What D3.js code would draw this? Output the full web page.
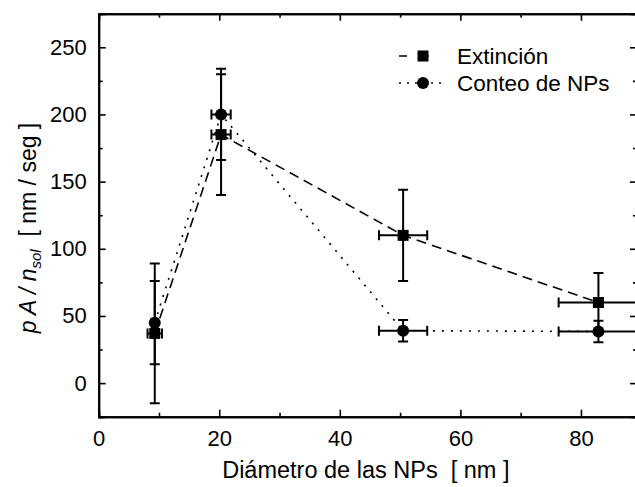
<!DOCTYPE html>
<html><head><meta charset="utf-8">
<script src="https://cdn.jsdelivr.net/npm/d3@7"></script>
<style>
body{margin:0;background:#fff;}
svg{display:block;}
text{font-family:Arial,"Liberation Sans",sans-serif;fill:#000;}
</style></head>
<body>
<svg id="c" width="635" height="487"></svg>
<script>
// ---- data ----
const diameters = [9.3, 20.3, 50.5, 82.9];
const extincion = [37, 185, 110, 60];
const extincionYErr = [52, 45, 34, 22];
const extincionXErr = [1.2, 1.6, 4.0, 6.6];
const conteo = [45, 200, 39, 38.5];
const conteoYErr = [31, 34, 8, 8];
const conteoXErr = [0.5, 1.6, 4.0, 6.6];
const xTicks = [0, 20, 40, 60, 80];
const yTicks = [0, 50, 100, 150, 200, 250];
const seriesNames = ["Extinción", "Conteo de NPs"];

const svg = d3.select("#c");
const L = 98.7, R = 637, T = 13.7, B = 416.7;
const x = d3.scaleLinear().domain([0, 89.3]).range([L, R]);
const y = d3.scaleLinear().domain([-25, 275]).range([B, T]);

const series = [
  {name: seriesNames[0], vals: extincion, ye: extincionYErr, xe: extincionXErr, dash: "10,6", shape: "square"},
  {name: seriesNames[1], vals: conteo, ye: conteoYErr, xe: conteoXErr, dash: "2,7", shape: "circle"}
];

svg.append("clipPath").attr("id", "clip").append("rect")
  .attr("x", L).attr("y", T).attr("width", R - L).attr("height", B - T);
const plot = svg.append("g").attr("clip-path", "url(#clip)");

// lines
const line = d3.line().x(d => x(d[0])).y(d => y(d[1]));
series.forEach(s => {
  plot.append("path").datum(diameters.map((d, i) => [d, s.vals[i]]))
    .attr("d", line).attr("fill", "none").attr("stroke", "#000")
    .attr("stroke-width", 1.6).attr("stroke-dasharray", s.dash);
});

// error bars
const cap = 5;
series.forEach(s => {
  diameters.forEach((d, i) => {
    const cx = x(d), cy = y(s.vals[i]);
    const y1 = y(s.vals[i] + s.ye[i]), y2 = y(s.vals[i] - s.ye[i]);
    const x1 = x(d - s.xe[i]), x2 = x(d + s.xe[i]);
    const g = plot.append("g").attr("stroke", "#000").attr("stroke-width", 2);
    g.append("line").attr("x1", cx).attr("x2", cx).attr("y1", y1).attr("y2", y2);
    g.append("line").attr("x1", cx - cap).attr("x2", cx + cap).attr("y1", y1).attr("y2", y1);
    g.append("line").attr("x1", cx - cap).attr("x2", cx + cap).attr("y1", y2).attr("y2", y2);
    g.append("line").attr("x1", x1).attr("x2", x2).attr("y1", cy).attr("y2", cy);
    g.append("line").attr("x1", x1).attr("x2", x1).attr("y1", cy - cap).attr("y2", cy + cap);
    g.append("line").attr("x1", x2).attr("x2", x2).attr("y1", cy - cap).attr("y2", cy + cap);
  });
});

// markers
function marker(g, shape, cx, cy) {
  if (shape === "square") {
    g.append("rect").attr("x", cx - 5.5).attr("y", cy - 5.5).attr("width", 11).attr("height", 11).attr("fill", "#000");
  } else {
    g.append("circle").attr("cx", cx).attr("cy", cy).attr("r", 6).attr("fill", "#000");
  }
}
series.forEach(s => {
  diameters.forEach((d, i) => marker(plot, s.shape, x(d), y(s.vals[i])));
});

// axes
const axW = 2;
const gx = svg.append("g").attr("transform", `translate(0,${B})`)
  .call(d3.axisBottom(x).tickValues(xTicks).tickSize(-7).tickPadding(14).tickFormat(d3.format("d")));
const gxTop = svg.append("g").attr("transform", `translate(0,${T})`)
  .call(d3.axisTop(x).tickValues(xTicks).tickSize(-7).tickFormat(""));
const gy = svg.append("g").attr("transform", `translate(${L},0)`)
  .call(d3.axisLeft(y).tickValues(yTicks).tickSize(-7).tickPadding(12).tickFormat(d3.format("d")));
const gyR = svg.append("g").attr("transform", `translate(${R},0)`)
  .call(d3.axisRight(y).tickValues(yTicks).tickSize(-7).tickFormat(""));
// minor ticks
const xMinor = d3.range(10, 90, 20);
const yMinor = d3.range(-25, 276, 50);
svg.append("g").attr("transform", `translate(0,${B})`).call(d3.axisBottom(x).tickValues(xMinor).tickSize(-4).tickFormat(""));
svg.append("g").attr("transform", `translate(0,${T})`).call(d3.axisTop(x).tickValues(xMinor).tickSize(-4).tickFormat(""));
svg.append("g").attr("transform", `translate(${L},0)`).call(d3.axisLeft(y).tickValues(yMinor).tickSize(-4).tickFormat(""));
svg.append("g").attr("transform", `translate(${R},0)`).call(d3.axisRight(y).tickValues(yMinor).tickSize(-4).tickFormat(""));
svg.selectAll(".domain").attr("stroke", "#000").attr("stroke-width", axW);
svg.selectAll(".tick line").attr("stroke", "#000").attr("stroke-width", 1.6);
svg.selectAll("g").attr("font-family", null);
svg.selectAll(".tick text").style("font-size", "22px").attr("fill", "#000");
gx.selectAll(".tick text").attr("dy", "0.71em");

// axis titles
svg.append("text").attr("x", (L + R) / 2 - 2).attr("y", 478)
  .attr("text-anchor", "middle").style("font-size", "23.5px").style("white-space", "pre")
  .text("Diámetro de las NPs\u00a0\u00a0[ nm ]");

const yt = svg.append("text").attr("transform", "translate(36,228) rotate(-90)")
  .attr("text-anchor", "middle").style("font-size", "23px");
yt.append("tspan").style("font-style", "italic").text("p A / n");
yt.append("tspan").style("font-style", "italic").style("font-size", "15px").attr("dy", 5).text("sol");
yt.append("tspan").attr("dy", -5).text("\u00a0\u00a0[ nm / seg ]");

// legend
const lg = svg.append("g");
series.forEach((s, i) => {
  const ly = 56 + i * 27;
  lg.append("line").attr("x1", 399).attr("x2", 443).attr("y1", ly).attr("y2", ly)
    .attr("stroke", "#000").attr("stroke-width", 1.6).attr("stroke-dasharray", s.shape === "square" ? "8,14" : "2,6");
  marker(lg, s.shape, 423, ly);
  lg.append("text").attr("x", 457).attr("y", ly + 8).style("font-size", "22.5px").text(s.name);
});
</script>
</body></html>
